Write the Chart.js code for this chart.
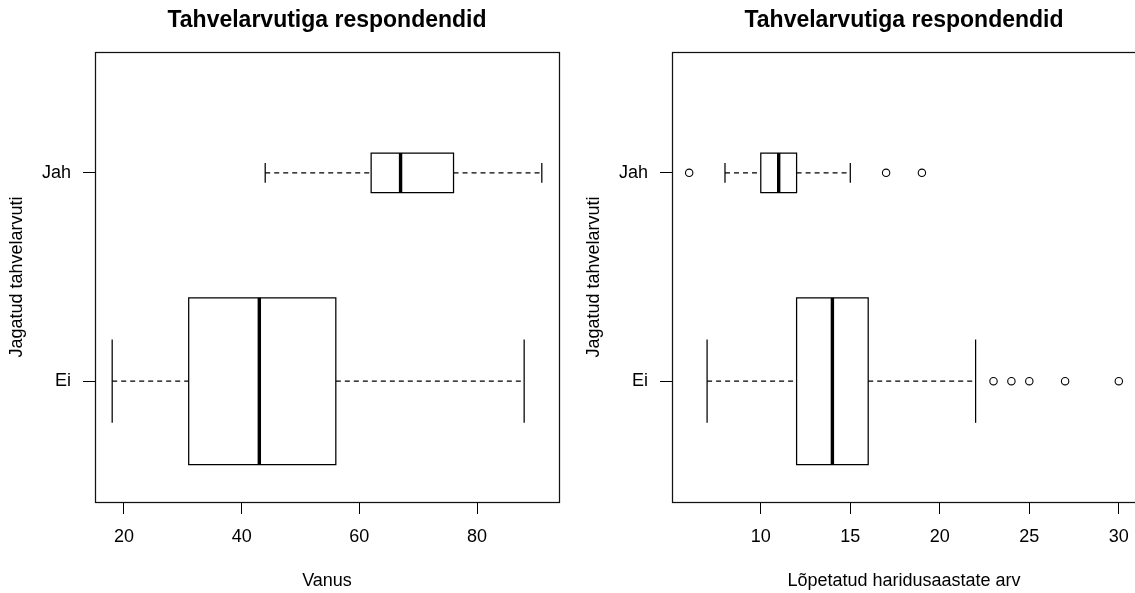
<!DOCTYPE html>
<html>
<head>
<meta charset="utf-8">
<script src="https://cdn.jsdelivr.net/npm/chart.js@4/dist/chart.umd.min.js"></script>
<style>
  html, body { margin: 0; padding: 0; background: #ffffff; }
  #wrap { position: relative; width: 1135px; height: 593px; overflow: hidden; background: #ffffff; }
  .panel { position: absolute; top: 0; width: 568px; height: 593px; }
  #p1 { left: 0px; }
  #p2 { left: 577px; }
</style>
</head>
<body>
<div id="wrap">
  <div class="panel" id="p1"><canvas id="c1" width="568" height="593"></canvas></div>
  <div class="panel" id="p2"><canvas id="c2" width="568" height="593"></canvas></div>
</div>
<script>
// ---------------- data ----------------
const categories = ['Ei', 'Jah'];
const chartTitle = 'Tahvelarvutiga respondendid';
const yAxisTitle = 'Jagatud tahvelarvuti';

// Panel 1: Vanus
const ageTitle = 'Vanus';
const ageMin = [18, 44];
const ageQ1 = [31, 62];
const ageMedian = [43, 67];
const ageQ3 = [56, 76];
const ageMax = [88, 91];
const ageOutliers = [[], []];
const ageTicks = [20, 40, 60, 80];

// Panel 2: Lõpetatud haridusaastate arv
const eduTitle = 'Lõpetatud haridusaastate arv';
const eduMin = [7, 8];
const eduQ1 = [12, 10];
const eduMedian = [14, 11];
const eduQ3 = [16, 12];
const eduMax = [22, 15];
const eduOutliers = [[23, 24, 25, 27, 30], [6, 17, 19]];
const eduTicks = [10, 15, 20, 25, 30];

// ---------------- style ----------------
const boxWidths = [0.8, 0.19];   // varwidth-style relative box heights
const FONT = 'Liberation Sans, Arial, Helvetica, sans-serif';
const INK = '#000000';
const LW = 1.25;

const framePlugin = {
  id: 'frame',
  afterDatasetsDraw(chart) {
    const a = chart.chartArea, ctx = chart.ctx;
    ctx.save();
    ctx.strokeStyle = '#111111';
    ctx.lineWidth = LW;
    ctx.strokeRect(Math.round(a.left) + 0.5, Math.round(a.top) + 0.5,
                   Math.round(a.right - a.left), Math.round(a.bottom - a.top));
    ctx.restore();
  }
};

function seg(points, width, dash) {
  return {
    type: 'line', data: points, borderColor: INK, borderWidth: width,
    borderDash: dash || [], pointRadius: 0, pointHoverRadius: 0,
    fill: false, tension: 0, borderCapStyle: 'butt', borderJoinStyle: 'miter'
  };
}

function makePanel(canvasId, mins, q1s, meds, q3s, maxs, outs, ticks, xTitle) {
  const datasets = [];
  categories.forEach((c, i) => {
    const p = i + 1, h = boxWidths[i] / 2, s = boxWidths[i] / 4;
    // whiskers
    datasets.push(seg([{x: mins[i], y: p}, {x: q1s[i], y: p}], LW, [5, 4]));
    datasets.push(seg([{x: q3s[i], y: p}, {x: maxs[i], y: p}], LW, [5, 4]));
    // staples
    datasets.push(seg([{x: mins[i], y: p - s}, {x: mins[i], y: p + s}], LW));
    datasets.push(seg([{x: maxs[i], y: p - s}, {x: maxs[i], y: p + s}], LW));
    // box
    const box = seg([{x: q1s[i], y: p - h}, {x: q3s[i], y: p - h}, {x: q3s[i], y: p + h},
                     {x: q1s[i], y: p + h}, {x: q1s[i], y: p - h}], LW);
    box.borderCapStyle = 'square';
    datasets.push(box);
    // median
    datasets.push(seg([{x: meds[i], y: p - h}, {x: meds[i], y: p + h}], 3.4));
    // outliers
    if (outs[i].length) {
      datasets.push({
        type: 'line', showLine: false,
        data: outs[i].map(v => ({x: v, y: p})),
        pointRadius: 3.7, pointHoverRadius: 3.7, pointStyle: 'circle',
        pointBorderColor: INK, pointBackgroundColor: 'rgba(0,0,0,0)', pointBorderWidth: 1.1
      });
    }
  });

  // R-style axis ranges (data range extended by 4%)
  const all = mins.concat(maxs, ...outs);
  const lo = Math.min(...all), hi = Math.max(...all), ext = (hi - lo) * 0.04;
  const yLo = 0.5, yHi = categories.length + 0.5, yExt = (yHi - yLo) * 0.04;

  return new Chart(document.getElementById(canvasId), {
    type: 'line',
    data: { datasets },
    plugins: [framePlugin],
    options: {
      responsive: false, animation: false, devicePixelRatio: 1,
      layout: { padding: { left: 0, right: 9, top: 0, bottom: 0 } },
      plugins: {
        legend: { display: false },
        tooltip: { enabled: false },
        title: {
          display: true, text: chartTitle, fullSize: false, color: INK,
          font: { family: FONT, size: 23, weight: 'bold', lineHeight: 1 },
          padding: { top: 9, bottom: 20 }
        }
      },
      scales: {
        x: {
          type: 'linear', min: lo - ext, max: hi + ext,
          afterBuildTicks: sc => { sc.ticks = ticks.map(v => ({value: v})); },
          afterFit: sc => { sc.height = 91; },
          grid: { display: true, drawOnChartArea: false, drawTicks: true, tickLength: 12,
                  tickColor: INK, lineWidth: 1 },
          border: { display: false },
          ticks: { color: INK, font: { family: FONT, size: 18 }, padding: 12,
                   maxRotation: 0, autoSkip: false },
          title: { display: true, text: xTitle, color: INK,
                   font: { family: FONT, size: 18, lineHeight: 1.2 },
                   padding: { top: 0, bottom: 1 } }
        },
        y: {
          type: 'linear', min: yLo - yExt, max: yHi + yExt,
          afterBuildTicks: sc => { sc.ticks = categories.map((c, i) => ({value: i + 1})); },
          afterFit: sc => { sc.width = 95; },
          grid: { display: true, drawOnChartArea: false, drawTicks: true, tickLength: 12,
                  tickColor: INK, lineWidth: 1 },
          border: { display: false },
          ticks: { color: INK, font: { family: FONT, size: 18 }, padding: 12,
                   callback: v => categories[Math.round(v) - 1] },
          title: { display: true, text: yAxisTitle, color: INK,
                   font: { family: FONT, size: 18, lineHeight: 1.2 },
                   padding: { top: 6, bottom: 0 } }
        }
      }
    }
  });
}

makePanel('c1', ageMin, ageQ1, ageMedian, ageQ3, ageMax, ageOutliers, ageTicks, ageTitle);
makePanel('c2', eduMin, eduQ1, eduMedian, eduQ3, eduMax, eduOutliers, eduTicks, eduTitle);
</script>
</body>
</html>
